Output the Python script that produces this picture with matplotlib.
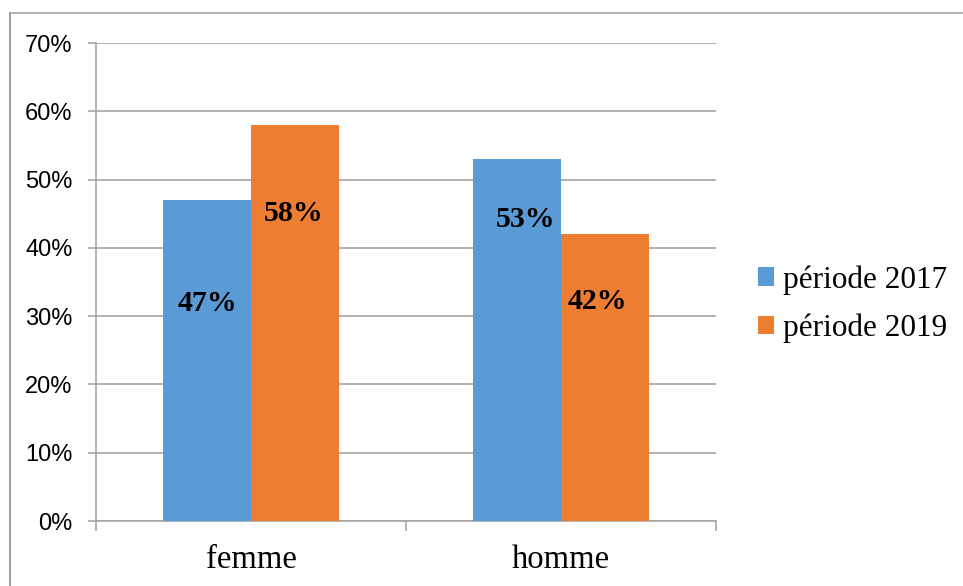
import matplotlib
matplotlib.use("Agg")
import matplotlib.pyplot as plt
from matplotlib.lines import Line2D
from matplotlib.patches import Patch
import numpy as np

# Data
categories = ["femme", "homme"]
series_names = ["période 2017", "période 2019"]
values_2017 = [47, 53]
values_2019 = [58, 42]
y_ticks = [0, 10, 20, 30, 40, 50, 60, 70]
y_tick_labels = ["0%", "10%", "20%", "30%", "40%", "50%", "60%", "70%"]

# Layout of the value labels (height in axis units, horizontal nudge)
label_y_2017 = [31.9, 44.1]
label_y_2019 = [45.1, 32.1]
label_dx_2017 = [0.0, 0.026]
label_dx_2019 = [-0.005, -0.026]

blue = "#5B9BD5"
orange = "#ED7D31"
grid_col = "#A6A6A6"

W, H = 963, 586
fig = plt.figure(figsize=(W / 100, H / 100), dpi=100)
ax = fig.add_axes([96 / W, (H - 521) / H, (716 - 96) / W, (521 - 43) / H])

x = np.arange(len(categories))
bw = 0.284
ax.bar(x - bw / 2, values_2017, bw, color=blue, zorder=3)
ax.bar(x + bw / 2, values_2019, bw, color=orange, zorder=3)

serif = "Liberation Serif"
for i in range(len(categories)):
    ax.text(x[i] - bw / 2 + label_dx_2017[i], label_y_2017[i], f"{values_2017[i]}%",
            ha="center", va="center", fontsize=21.5, fontweight="bold",
            family=serif, zorder=4)
    ax.text(x[i] + bw / 2 + label_dx_2019[i], label_y_2019[i], f"{values_2019[i]}%",
            ha="center", va="center", fontsize=21.5, fontweight="bold",
            family=serif, zorder=4)

ax.set_xlim(-0.5, len(categories) - 0.5)
ax.set_ylim(0, 70)
ax.set_yticks(y_ticks)
ax.set_yticklabels(y_tick_labels, family="Liberation Sans", fontsize=17)
ax.yaxis.grid(True, color=grid_col, linewidth=1.2, zorder=0)
ax.tick_params(axis="y", length=6, width=1.2, color=grid_col, pad=11)

ax.set_xticks(x)
ax.set_xticklabels(categories, family=serif, fontsize=23.5)
ax.tick_params(axis="x", which="major", length=0, pad=17)
ax.set_xticks([-0.5, 0.5, 1.5], minor=True)
ax.tick_params(axis="x", which="minor", length=7, width=1.2, color=grid_col)

for s in ("top", "right"):
    ax.spines[s].set_visible(False)
for s in ("left", "bottom"):
    ax.spines[s].set_color(grid_col)
    ax.spines[s].set_linewidth(1.2)

handles = [Patch(facecolor=blue), Patch(facecolor=orange)]
leg = fig.legend(handles, series_names, loc="center left",
                 bbox_to_anchor=(758 / W, 1 - 304 / H),
                 frameon=False, prop={"family": serif, "size": 22.5},
                 handlelength=0.52, handleheight=0.52, handletextpad=0.28,
                 labelspacing=0.6, borderpad=0, borderaxespad=0)

# Chart frame
fig.add_artist(Line2D([9.5 / W, 9.5 / W], [0, 1 - 13 / H], color="#8C8C8C",
                      linewidth=1.2, transform=fig.transFigure))
fig.add_artist(Line2D([9.5 / W, 962 / W], [1 - 13 / H, 1 - 13 / H], color="#A6A6A6",
                      linewidth=1.2, transform=fig.transFigure))

fig.savefig("out.png", dpi=100)
